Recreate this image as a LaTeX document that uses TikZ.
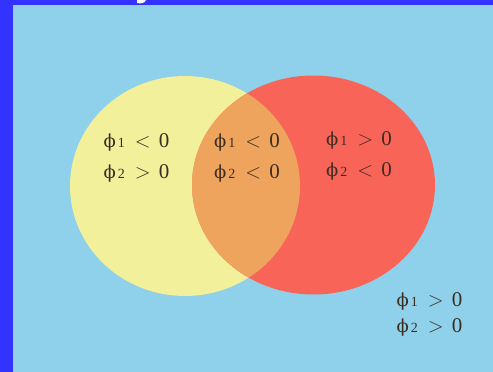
\documentclass[tikz,border=0pt]{standalone}
\usepackage{fontspec}
\setmainfont{Liberation Serif}
\newfontfamily\phifont{DejaVu Serif}
\definecolor{bgblue}{RGB}{143,208,234}
\definecolor{frameblue}{RGB}{51,51,255}
\definecolor{venyellow}{RGB}{242,240,154}
\definecolor{venred}{RGB}{248,100,88}
\definecolor{venorange}{RGB}{238,164,92}
\definecolor{labtext}{RGB}{60,45,35}
\newcommand{\philine}[3]{{\phifont\fontsize{18}{18}\selectfont ϕ}\kern2pt{\fontsize{14}{14}\selectfont #1}\hspace{10pt}$#2$\hspace{8pt}#3}
\tikzset{
  lab/.style={text=labtext, align=left, inner sep=0pt, font=\fontsize{21}{31}\selectfont},
}
\begin{document}
\begin{tikzpicture}[x=1pt,y=-1pt]
\useasboundingbox (0,0) rectangle (493,372);
\fill[bgblue] (0,0) rectangle (493,372);
\fill[frameblue] (0,0) rectangle (493,5);
\fill[frameblue] (0,0) rectangle (13,372);
\fill[white] (137,0) -- (146,0) .. controls (145,3) and (141,4) .. (137,3) -- cycle;
% ellipses
\fill[venyellow] (185,186) ellipse [x radius=115, y radius=110];
\fill[venred] (313.5,185) ellipse [x radius=121.5, y radius=109.5];
\begin{scope}
  \clip (185,186) ellipse [x radius=115, y radius=110];
  \fill[venorange] (313.5,185) ellipse [x radius=121.5, y radius=109.5];
\end{scope}
% labels
\node[lab] (left) at (136.5,158) {\philine{1}{<}{0}\\\philine{2}{>}{0}};
\node[lab] (mid) at (247,158) {\philine{1}{<}{0}\\\philine{2}{<}{0}};
\node[lab] (right) at (359,156) {\philine{1}{>}{0}\\\philine{2}{<}{0}};
\node[lab, font=\fontsize{21}{26}\selectfont] (out) at (429.5,314) {\philine{1}{>}{0}\\\philine{2}{>}{0}};
\end{tikzpicture}
\end{document}
